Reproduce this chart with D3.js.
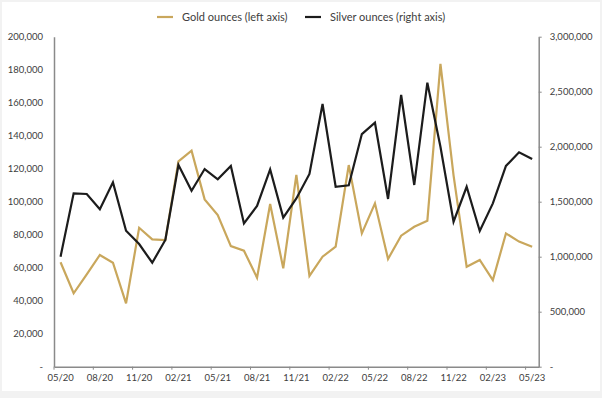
<!DOCTYPE html>
<html>
<head>
<meta charset="utf-8">
<script src="https://cdn.jsdelivr.net/npm/d3@7"></script>
<style>
  body { margin: 0; background: #f2f2f2; }
  svg { display: block; }
  text { font-family: Lato, "Open Sans", sans-serif; fill: #404040; }
</style>
</head>
<body>
<div id="chart"></div>
<script>
const months = ["05/20","06/20","07/20","08/20","09/20","10/20","11/20","12/20",
  "01/21","02/21","03/21","04/21","05/21","06/21","07/21","08/21","09/21","10/21","11/21","12/21",
  "01/22","02/22","03/22","04/22","05/22","06/22","07/22","08/22","09/22","10/22","11/22","12/22",
  "01/23","02/23","03/23","04/23","05/23"]

// gold ounces, left axis
const gold = [63300, 44500, 56000, 67700, 63000, 38400, 84200, 77200, 76800, 124500,
  130900, 101400, 91900, 73100, 70300, 53900, 98600, 59600, 116200, 55000,
  66700, 72700, 122200, 80800, 99000, 65300, 79400, 84800, 88500, 183500,
  116000, 60600, 64700, 52500, 80800, 75800, 72700]

// silver ounces, right axis
const silver = [1000000, 1576000, 1570000, 1431000, 1676000, 1236000, 1115000, 945000, 1152000, 1834000,
  1600000, 1797000, 1703000, 1825000, 1303000, 1461000, 1794000, 1355000, 1530000, 1752000,
  2388000, 1636000, 1649000, 2115000, 2218000, 1525000, 2470000, 1652000, 2582000, 2000000,
  1318000, 1636000, 1234000, 1485000, 1825000, 1949000, 1888000]

const leftTicks = [0, 20000, 40000, 60000, 80000, 100000, 120000, 140000, 160000, 180000, 200000]
const rightTicks = [0, 500000, 1000000, 1500000, 2000000, 2500000, 3000000]
const labelMonths = months.filter((m, i) => i % 3 == 0)

const width = 602, height = 398;
const plot = {left: 54, right: 538.7, top: 36.7, bottom: 366.7};
const goldColor = "#c9a75c", silverColor = "#1c1c1c", axisColor = "#8a8a8a";

const svg = d3.select("#chart").append("svg")
  .attr("width", width)
  .attr("height", height);

svg.append("rect")
  .attr("x", 2).attr("y", 2)
  .attr("width", 598).attr("height", 389)
  .attr("fill", "#fff");

const x = d3.scaleBand().domain(months).range([plot.left, plot.right]).padding(0);
const cx = m => x(m) + x.bandwidth() / 2;
const yL = d3.scaleLinear().domain([0, 200000]).range([plot.bottom, plot.top]);
const yR = d3.scaleLinear().domain([0, 3000000]).range([plot.bottom, plot.top]);

const fmt = v => v == 0 ? "-" : d3.format(",")(v);

// left axis
const gl = svg.append("g")
  .attr("transform", `translate(${plot.left},0)`)
  .call(d3.axisLeft(yL).tickValues(leftTicks).tickFormat(fmt).tickSize(0).tickPadding(11));
gl.select(".domain").attr("stroke", axisColor).attr("stroke-width", 1.5);
gl.selectAll("text").attr("font-size", 9.5).attr("font-family", null);

// right axis
const gr = svg.append("g")
  .attr("transform", `translate(${plot.right},0)`)
  .call(d3.axisRight(yR).tickValues(rightTicks).tickFormat(fmt).tickSizeInner(3).tickSizeOuter(0).tickPadding(8));
gr.select(".domain").attr("stroke", axisColor).attr("stroke-width", 1.5);
gr.selectAll("line").attr("stroke", axisColor);
gr.selectAll("text").attr("font-size", 9.5).attr("font-family", null);

// bottom axis, labels centred on the months
const gb = svg.append("g")
  .attr("transform", `translate(0,${plot.bottom})`)
  .call(d3.axisBottom(x).tickValues(labelMonths).tickSize(0).tickPadding(8));
gb.select(".domain").attr("stroke", axisColor).attr("stroke-width", 1.5);
gb.selectAll("text").attr("font-size", 9.5).attr("font-family", null);

// tick marks sit between categories
svg.append("g")
  .selectAll("line")
  .data(labelMonths)
  .join("line")
  .attr("x1", d => x(d)).attr("x2", d => x(d))
  .attr("y1", plot.bottom).attr("y2", plot.bottom + 3)
  .attr("stroke", axisColor);

const lineGold = d3.line().x((d, i) => cx(months[i])).y(d => yL(d));
const lineSilver = d3.line().x((d, i) => cx(months[i])).y(d => yR(d));

svg.append("path")
  .datum(gold)
  .attr("d", lineGold)
  .attr("fill", "none")
  .attr("stroke", goldColor)
  .attr("stroke-width", 2.2);

svg.append("path")
  .datum(silver)
  .attr("d", lineSilver)
  .attr("fill", "none")
  .attr("stroke", silverColor)
  .attr("stroke-width", 2.2);

// legend
const legend = [
  {name: "Gold ounces (left axis)", color: goldColor, x: 157},
  {name: "Silver ounces (right axis)", color: silverColor, x: 305}
]
const lg = svg.append("g").selectAll("g").data(legend).join("g")
  .attr("transform", d => `translate(${d.x},17)`);
lg.append("line")
  .attr("x1", 0).attr("x2", 16)
  .attr("stroke", d => d.color).attr("stroke-width", 2.2);
lg.append("text")
  .attr("x", 25).attr("dy", "0.35em")
  .attr("font-size", 11)
  .text(d => d.name);
</script>
</body>
</html>
